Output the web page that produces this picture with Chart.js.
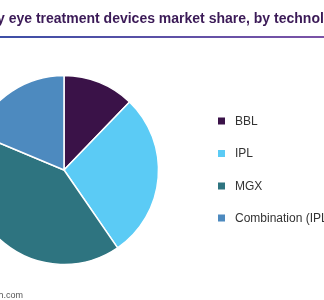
<!DOCTYPE html>
<html>
<head>
<meta charset="utf-8">
<script src="https://cdn.jsdelivr.net/npm/chart.js@4.4.1/dist/chart.umd.min.js"></script>
<style>
  html, body { margin: 0; padding: 0; background: #ffffff; overflow: hidden; width: 324px; height: 300px; }
  #wrap { position: absolute; left: -100px; top: 0; width: 600px; height: 300px; }
</style>
</head>
<body>
<div id="wrap"><canvas id="c" width="600" height="300"></canvas></div>
<script>
// ---- data ----
const categories = ['BBL', 'IPL', 'MGX', 'Combination (IPL + MGX)'];
const shares = [12.2, 28.2, 40.9, 18.7];
const sliceColors = ['#3a1248', '#5bcbf5', '#2e7480', '#4d8abf'];
const titleText = 'U.S. dry eye treatment devices market share, by technology, 2022 (%)';
const sourceText = 'Source: www.grandviewresearch.com';

const OFFSET = 100; // canvas x = screen x + OFFSET

const decorPlugin = {
  id: 'decor',
  afterDraw(chart) {
    const ctx = chart.ctx;
    ctx.save();
    // title
    ctx.font = 'bold 14px "Liberation Sans", Arial, sans-serif';
    ctx.fillStyle = '#3b1a57';
    ctx.textBaseline = 'alphabetic';
    ctx.textAlign = 'left';
    const pre = ctx.measureText('U.S. dr').width;
    const yStart = OFFSET - 3;
    ctx.fillText(titleText, yStart - pre, 23);
    // gradient rule
    const g = ctx.createLinearGradient(OFFSET, 0, OFFSET + 324, 0);
    g.addColorStop(0, '#3d4fa6');
    g.addColorStop(1, '#7b52a6');
    ctx.fillStyle = g;
    ctx.fillRect(0, 36, chart.width, 2);
    // legend
    const ys = [121, 153.5, 186, 218];
    ctx.font = '12px "Liberation Sans", Arial, sans-serif';
    ctx.textBaseline = 'middle';
    const meta = chart.getDatasetMeta(0);
    categories.forEach((lab, i) => {
      const col = meta.data[i].options.backgroundColor;
      ctx.fillStyle = col;
      ctx.fillRect(OFFSET + 218, ys[i] - 3.5, 7, 7);
      ctx.fillStyle = '#333333';
      ctx.fillText(lab, OFFSET + 235, ys[i] + 0.5);
    });
    // source
    ctx.font = '9px "Liberation Sans", Arial, sans-serif';
    ctx.fillStyle = '#555555';
    ctx.textAlign = 'right';
    ctx.fillText(sourceText, OFFSET + 23, 296);
    ctx.restore();
  }
};

new Chart(document.getElementById('c'), {
  type: 'pie',
  data: {
    labels: categories,
    datasets: [{
      data: shares,
      backgroundColor: sliceColors,
      borderColor: '#ffffff',
      borderWidth: 1.5,
      radius: 94.5
    }]
  },
  options: {
    responsive: false,
    animation: false,
    layout: { padding: { left: 0, right: 272, top: 40, bottom: 0 } },
    plugins: {
      legend: { display: false },
      title: { display: false },
      tooltip: { enabled: false }
    }
  },
  plugins: [decorPlugin]
});
</script>
</body>
</html>
